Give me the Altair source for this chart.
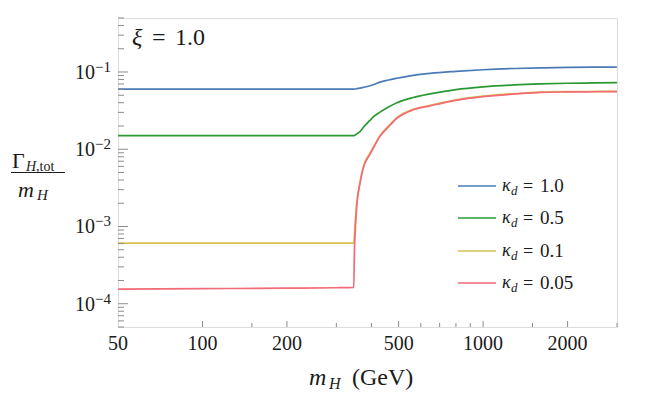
import altair as alt
import pandas as pd

SERIF = "Liberation Serif"

# ---- data ----
m_vals = [50, 100, 200, 300, 346, 348, 350, 354.5, 364, 374, 395, 406, 429, 460,
          493, 563, 647, 800, 1000, 1300, 1600, 2000, 2500, 3000]
blue = [0.060, 0.060, 0.060, 0.060, 0.060, 0.0601, 0.0603, 0.0608, 0.0619, 0.0632,
        0.0663, 0.0684, 0.0740, 0.0788, 0.083, 0.0906, 0.0962, 0.102, 0.107, 0.111,
        0.113, 0.1145, 0.1155, 0.116]
green = [0.015, 0.015, 0.015, 0.015, 0.015, 0.0151, 0.0153, 0.0158, 0.0169, 0.0191,
         0.0236, 0.0262, 0.0302, 0.0352, 0.040, 0.0467, 0.052, 0.059, 0.064, 0.068,
         0.070, 0.0715, 0.0722, 0.0729]
yellow = [6.1e-4, 6.1e-4, 6.1e-4, 6.1e-4, 6.1e-4, 8.0e-4, 1.1e-3, 2.0e-3, 3.7e-3,
          5.9e-3, 8.9e-3, 0.0106, 0.0150, 0.0199, 0.0256, 0.0328, 0.0369, 0.0436,
          0.0486, 0.0525, 0.055, 0.0557, 0.056, 0.0562]
red = [1.55e-4, 1.57e-4, 1.59e-4, 1.61e-4, 1.63e-4, 5.0e-4, 8.4e-4, 1.83e-3, 3.6e-3,
       5.7e-3, 8.6e-3, 0.0103, 0.0147, 0.0195, 0.0252, 0.0324, 0.0365, 0.043, 0.048,
       0.052, 0.0545, 0.0552, 0.0555, 0.0557]

kappa_labels = ["1.0", "0.5", "0.1", "0.05"]
series_values = [blue, green, yellow, red]
colors = ["#4a7bb7", "#2a9934", "#d6c251", "#f26b77"]

x_major = [100, 200, 500, 1000, 2000]
x_minor = [150, 300, 400, 600, 700, 800, 900, 1500, 3000]
x_label_values = [50, 100, 200, 500, 1000, 2000]
x_label_text = ["50", "100", "200", "500", "1000", "2000"]
y_major = [1e-4, 1e-3, 1e-2, 1e-1]
y_major_sup = ["\u22124", "\u22123", "\u22122", "\u22121"]
y_minor = [5e-5, 6e-5, 7e-5, 8e-5, 9e-5,
           2e-4, 3e-4, 4e-4, 5e-4, 6e-4, 7e-4, 8e-4, 9e-4,
           2e-3, 3e-3, 4e-3, 5e-3, 6e-3, 7e-3, 8e-3, 9e-3,
           2e-2, 3e-2, 4e-2, 5e-2, 6e-2, 7e-2, 8e-2, 9e-2,
           2e-1, 3e-1, 4e-1, 5e-1]

W, H = 499, 309
AX = "#8c8c8c"
INK = "#1a1a1a"

xscale = alt.Scale(type="log", domain=[50, 3000], nice=False)
yscale = alt.Scale(type="log", domain=[5e-5, 0.5], nice=False)

layers = []
for i, (vals, col) in enumerate(zip(series_values, colors)):
    df = pd.DataFrame({"m": m_vals, "v": vals})
    if i == 0:
        xax = alt.Axis(labels=False, ticks=False, grid=False, domainColor=AX,
                       domainWidth=1, title=None)
        yax = alt.Axis(labels=False, ticks=False, grid=False, domainColor=AX,
                       domainWidth=1, title=None)
    else:
        xax = None
        yax = None
    layers.append(
        alt.Chart(df).mark_line(color=col, strokeWidth=1.7, interpolate="monotone", clip=True)
        .encode(x=alt.X("m:Q", scale=xscale, axis=xax),
                y=alt.Y("v:Q", scale=yscale, axis=yax))
    )

# inward ticks
def yticks(vals, length):
    return alt.Chart(pd.DataFrame({"v": vals})).mark_rule(color=AX, strokeWidth=1).encode(
        y=alt.Y("v:Q", scale=yscale, axis=None), x=alt.value(0), x2=alt.value(length))

def xticks(vals, length):
    return alt.Chart(pd.DataFrame({"m": vals})).mark_rule(color=AX, strokeWidth=1).encode(
        x=alt.X("m:Q", scale=xscale, axis=None), y=alt.value(H), y2=alt.value(H - length))

layers += [yticks(y_major, 10), yticks(y_minor, 6), xticks(x_major, 6), xticks(x_minor, 4)]

# x tick labels
xlab = pd.DataFrame({"m": x_label_values, "t": x_label_text})
layers.append(alt.Chart(xlab).mark_text(align="center", baseline="alphabetic", fontSize=20,
                                        font=SERIF, color=INK)
              .encode(x=alt.X("m:Q", scale=xscale, axis=None), y=alt.value(H + 23), text="t:N"))

# y tick labels 10^k
ylab = pd.DataFrame({"v": y_major, "base": ["10"] * len(y_major), "sup": y_major_sup})
layers.append(alt.Chart(ylab).mark_text(align="right", baseline="alphabetic", dy=7,
                                        fontSize=20, font=SERIF, color=INK)
              .encode(y=alt.Y("v:Q", scale=yscale, axis=None), x=alt.value(-23), text="base:N"))
layers.append(alt.Chart(ylab).mark_text(align="left", baseline="alphabetic", dy=0,
                                        fontSize=15, font=SERIF, color=INK)
              .encode(y=alt.Y("v:Q", scale=yscale, axis=None), x=alt.value(-23), text="sup:N"))

def txt(s, x, y, size, italic=False, align="left"):
    return alt.Chart(pd.DataFrame({"t": [s]})).mark_text(
        align=align, baseline="alphabetic", fontSize=size, font=SERIF, color=INK,
        fontStyle="italic" if italic else "normal").encode(
        x=alt.value(x), y=alt.value(y), text="t:N")

# xi annotation
layers.append(txt("\u03be", 14, 27, 24, italic=True))
layers.append(txt("=", 34, 27, 24))
layers.append(txt("1.0", 57, 27, 24))

# legend (manual, to allow subscripts)
row_y = [168, 200, 233, 265]
for lab, col, ry in zip(kappa_labels, colors, row_y):
    layers.append(alt.Chart(pd.DataFrame({"k": [lab]})).mark_rule(color=col, strokeWidth=1.7)
                  .encode(x=alt.value(340), x2=alt.value(378), y=alt.value(ry)))
    layers.append(txt("\u03ba", 384, ry + 5, 18, italic=True))
    layers.append(txt("d", 393, ry + 9, 13, italic=True))
    layers.append(txt("=", 405, ry + 6, 18))
    layers.append(txt(lab, 422, ry + 6, 19))

# x title: m_H (GeV)
layers.append(txt("m", 191, 367, 24, italic=True))
layers.append(txt("H", 211, 371, 16, italic=True))
layers.append(txt("(GeV)", 234, 367, 24))

# y title: Gamma_{H,tot} / m_H
layers.append(txt("\u0393", -106, 150, 22))
layers.append(txt("H", -92, 153, 14, italic=True))
layers.append(txt(",tot", -82, 153, 14))
layers.append(alt.Chart(pd.DataFrame({"k": [0]})).mark_rule(color=INK, strokeWidth=1)
              .encode(x=alt.value(-107), x2=alt.value(-53), y=alt.value(154.5)))
layers.append(txt("m", -100, 179, 22, italic=True))
layers.append(txt("H", -81, 182, 15, italic=True))

chart = alt.layer(*layers).properties(
    width=W, height=H,
    autosize=alt.AutoSizeParams(type="none"),
    padding={"left": 110, "top": 10, "right": 39, "bottom": 64},
).configure_view(stroke=None).configure(background="white")

chart.save("out.html", embed_options={"renderer": "svg", "actions": False})
